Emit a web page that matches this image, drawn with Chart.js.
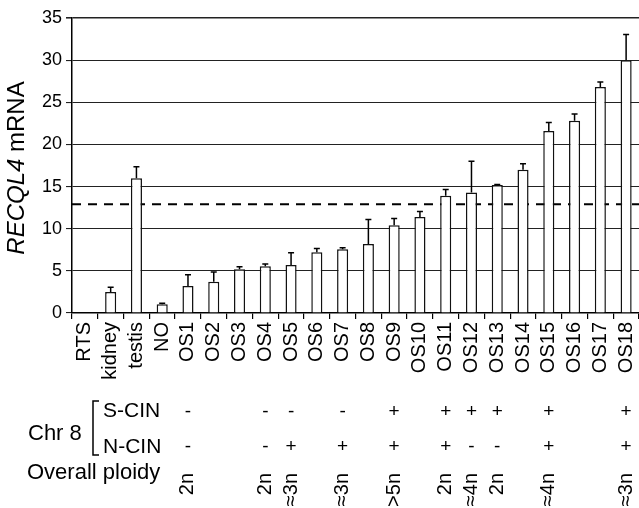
<!DOCTYPE html>
<html>
<head>
<meta charset="utf-8">
<title>RECQL4 mRNA</title>
<script src="https://cdn.jsdelivr.net/npm/chart.js@4.4.0/dist/chart.umd.min.js"></script>
<style>
    html, body { margin: 0; padding: 0; background: #fff; }
    canvas { display: block; }
</style>
</head>
<body>
<canvas id="recqlChart" width="639" height="508"></canvas>
<script>
// Samples on the x axis
const categories = ['RTS', 'kidney', 'testis', 'NO', 'OS1', 'OS2', 'OS3', 'OS4', 'OS5', 'OS6', 'OS7',
    'OS8', 'OS9', 'OS10', 'OS11', 'OS12', 'OS13', 'OS14', 'OS15', 'OS16', 'OS17', 'OS18'];

// Relative RECQL4 mRNA and upper error bar (SD)
const mrna = [0, 2.5, 16, 1.05, 3.2, 3.7, 5.2, 5.55, 5.7, 7.2, 7.55,
    8.2, 10.4, 11.4, 13.9, 14.3, 15.2, 17.0, 21.6, 22.8, 26.8, 30.0];
const errors = [0, 0.55, 1.35, 0.1, 1.35, 1.15, 0.3, 0.25, 1.45, 0.45, 0.2,
    2.9, 0.8, 0.65, 0.75, 3.7, 0.05, 0.7, 1.0, 0.8, 0.6, 3.05];

// Dashed cut-off line
const threshold = 12.9;

const yTicks = [0, 5, 10, 15, 20, 25, 30, 35];

// Chromosome 8 status and ploidy per sample
const sCin = ['', '', '', '', '-', '', '', '-', '-', '', '-',
    '', '+', '', '+', '+', '+', '', '+', '', '', '+'];
const nCin = ['', '', '', '', '-', '', '', '-', '+', '', '+',
    '', '+', '', '+', '-', '-', '', '+', '', '', '+'];
const ploidy = ['', '', '', '', '2n', '', '', '2n', '≈3n', '', '≈3n',
    '', '>5n', '', '2n', '≈4n', '2n', '', '≈4n', '', '', '≈3n'];

const FONT = '"Liberation Sans", Arial, sans-serif';

// dashed line sits behind the bars
const thresholdLine = {
    id: 'thresholdLine',
    beforeDatasetsDraw(chart) {
        const { ctx, chartArea, scales } = chart;
        const py = scales.y.getPixelForValue(threshold);
        ctx.save();
        ctx.setLineDash([9, 7]);
        ctx.lineWidth = 2;
        ctx.strokeStyle = '#000';
        ctx.beginPath();
        ctx.moveTo(chartArea.left, py);
        ctx.lineTo(chartArea.right, py);
        ctx.stroke();
        ctx.restore();
    }
};

const errorBars = {
    id: 'errorBars',
    afterDatasetsDraw(chart) {
        const { ctx, scales } = chart;
        const meta = chart.getDatasetMeta(0);
        ctx.save();
        ctx.strokeStyle = '#000';
        ctx.lineWidth = 1.5;
        ctx.beginPath();
        meta.data.forEach((bar, i) => {
            if (!errors[i]) return;
            const top = scales.y.getPixelForValue(mrna[i] + errors[i]);
            ctx.moveTo(bar.x, bar.y);
            ctx.lineTo(bar.x, top);
            ctx.moveTo(bar.x - 3, top);
            ctx.lineTo(bar.x + 3, top);
        });
        ctx.stroke();
        ctx.restore();
    }
};

// y title with the gene name in italics
const yTitle = {
    id: 'yTitle',
    afterDraw(chart) {
        const ctx = chart.ctx;
        const gene = 'RECQL4';
        const rest = ' mRNA';
        ctx.save();
        ctx.translate(24, 168);
        ctx.rotate(-Math.PI / 2);
        ctx.fillStyle = '#000';
        ctx.textBaseline = 'alphabetic';
        ctx.font = 'italic 24px ' + FONT;
        const w1 = ctx.measureText(gene).width;
        ctx.font = '24px ' + FONT;
        const w2 = ctx.measureText(rest).width;
        const start = -(w1 + w2) / 2;
        ctx.font = 'italic 24px ' + FONT;
        ctx.fillText(gene, start, 0);
        ctx.font = '24px ' + FONT;
        ctx.fillText(rest, start + w1, 0);
        ctx.restore();
    }
};

// table of chromosome 8 status under the axis
const statusTable = {
    id: 'statusTable',
    afterDraw(chart) {
        const { ctx, scales } = chart;
        ctx.save();
        ctx.fillStyle = '#000';
        ctx.strokeStyle = '#000';
        ctx.textBaseline = 'middle';
        ctx.textAlign = 'left';
        ctx.font = '22px ' + FONT;
        ctx.fillText('Chr 8', 28, 434);
        ctx.fillText('Overall ploidy', 27, 473);
        ctx.font = '21px ' + FONT;
        ctx.fillText('S-CIN', 103, 411);
        ctx.fillText('N-CIN', 103, 447);

        // bracket
        ctx.lineWidth = 1.5;
        ctx.beginPath();
        ctx.moveTo(99, 401);
        ctx.lineTo(93, 401);
        ctx.lineTo(93, 455);
        ctx.lineTo(99, 455);
        ctx.stroke();

        ctx.textAlign = 'center';
        ctx.font = '19px ' + FONT;
        categories.forEach((c, i) => {
            const px = scales.x.getPixelForValue(i);
            if (sCin[i]) ctx.fillText(sCin[i], px, 412);
            if (nCin[i]) ctx.fillText(nCin[i], px, 447);
        });

        ctx.font = '20px ' + FONT;
        ctx.textAlign = 'right';
        categories.forEach((c, i) => {
            if (!ploidy[i]) return;
            const px = scales.x.getPixelForValue(i);
            ctx.save();
            ctx.translate(px, 473);
            ctx.rotate(-Math.PI / 2);
            ctx.fillText(ploidy[i], 0, 0);
            ctx.restore();
        });
        ctx.restore();
    }
};

const ctx = document.getElementById('recqlChart').getContext('2d');
const recqlChart = new Chart(ctx, {
    type: 'bar',
    data: {
        labels: categories,
        datasets: [{
            label: 'RECQL4 mRNA',
            data: mrna,
            backgroundColor: '#fff',
            borderColor: '#111',
            borderWidth: 1.5,
            barPercentage: 0.43,
            categoryPercentage: 1.0
        }]
    },
    options: {
        responsive: false,
        animation: false,
        layout: {
            padding: { top: 18, right: 0, bottom: 0, left: 0 }
        },
        plugins: {
            legend: { display: false },
            tooltip: { enabled: false }
        },
        scales: {
            x: {
                grid: {
                    offset: true,
                    drawOnChartArea: false,
                    drawTicks: true,
                    tickLength: 6,
                    color: '#000',
                    lineWidth: 1.2
                },
                border: { color: '#000', width: 1.5 },
                ticks: {
                    color: '#000',
                    font: { family: FONT, size: 20 },
                    minRotation: 90,
                    maxRotation: 90,
                    autoSkip: false,
                    padding: 3
                },
                afterFit(scale) {
                    scale.height = 195;
                    scale.paddingLeft = 0;
                    scale.paddingRight = 0;
                }
            },
            y: {
                min: 0,
                max: 35,
                afterBuildTicks(scale) {
                    scale.ticks = yTicks.map(v => ({ value: v }));
                },
                grid: {
                    color: '#222',
                    lineWidth: (c) => c.tick && c.tick.value === 35 ? 1.6 : 1.1,
                    tickLength: 6
                },
                border: { color: '#000', width: 1.5 },
                ticks: {
                    color: '#000',
                    font: { family: FONT, size: 18 },
                    padding: 4
                },
                afterFit(scale) {
                    scale.width = 72;
                }
            }
        }
    },
    plugins: [thresholdLine, errorBars, yTitle, statusTable]
});
</script>
</body>
</html>
